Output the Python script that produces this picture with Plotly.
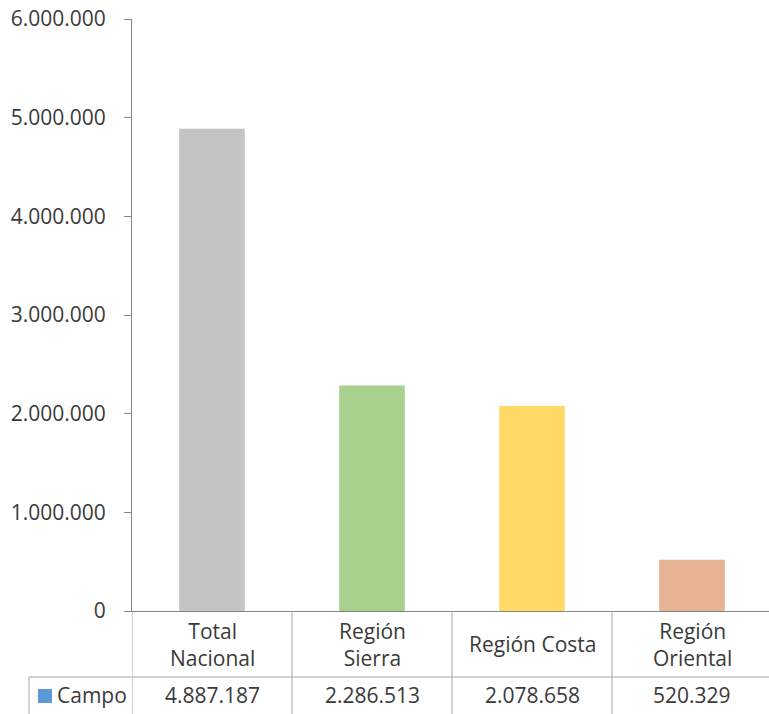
import plotly.graph_objects as go

categories = ["Total Nacional", "Región Sierra", "Región Costa", "Región Oriental"]
category_labels = ["Total<br>Nacional", "Región<br>Sierra", "Región Costa", "Región<br>Oriental"]
values = [4887187, 2286513, 2078658, 520329]
value_labels = ["4.887.187", "2.286.513", "2.078.658", "520.329"]
bar_colors = ["#C4C4C4", "#A9D18E", "#FFD966", "#E6B393"]
series_name = "Campo"
y_ticks = [0, 1000000, 2000000, 3000000, 4000000, 5000000, 6000000]

FONT = "Open Sans"
FS = 21
TXT = "#3A3A3A"
LINE = "#A6A6A6"

W, H = 769, 714
AX_X = 132      # x of y-axis
ZERO_Y = 611    # y of baseline
L, R, T, B = AX_X, 0, 19, H - ZERO_Y
pw = W - L - R
ph = H - T - B

fig = go.Figure()
fig.add_trace(go.Bar(
    x=categories, y=values, marker=dict(color=bar_colors, line=dict(width=0)),
    width=0.41, name=series_name, showlegend=False, hoverinfo="x+y",
))

def px_x(wx):
    return (wx - AX_X) / pw

def px_y(wy):
    return -(wy - ZERO_Y) / ph

row1_bottom = px_y(677)
table_bottom = px_y(716)
legend_left = px_x(29)

shapes = []
shapes.append(dict(type="line", xref="paper", yref="paper", x0=legend_left, x1=1.0,
                   y0=row1_bottom, y1=row1_bottom, line=dict(color=LINE, width=1)))
shapes.append(dict(type="line", xref="paper", yref="paper", x0=legend_left, x1=legend_left,
                   y0=row1_bottom, y1=table_bottom, line=dict(color=LINE, width=1)))
for b in [-0.5, 0.5, 1.5, 2.5]:
    shapes.append(dict(type="line", xref="x", yref="paper", x0=b, x1=b,
                       y0=0, y1=table_bottom, line=dict(color=LINE, width=1)))
shapes.append(dict(type="rect", xref="paper", yref="paper", x0=px_x(38), x1=px_x(52),
                   y0=px_y(703), y1=px_y(689), fillcolor="#5B9BD5", line=dict(width=0)))

annotations = []
row1_center = px_y(644)
row2_center = px_y(695)
for c, lab, v in zip(categories, category_labels, value_labels):
    annotations.append(dict(x=c, y=row1_center, xref="x", yref="paper", text=lab,
                            showarrow=False, font=dict(family=FONT, size=FS, color=TXT),
                            xanchor="center", yanchor="middle"))
    annotations.append(dict(x=c, y=row2_center, xref="x", yref="paper", text=v,
                            showarrow=False, font=dict(family=FONT, size=FS, color=TXT),
                            xanchor="center", yanchor="middle"))
annotations.append(dict(x=px_x(55), y=row2_center, xref="paper", yref="paper",
                        text=series_name, showarrow=False,
                        font=dict(family=FONT, size=FS, color=TXT),
                        xanchor="left", yanchor="middle"))

fig.update_layout(
    width=W, height=H,
    margin=dict(l=L, r=R, t=T, b=B, pad=0, autoexpand=False),
    paper_bgcolor="white", plot_bgcolor="white",
    separators=",.",
    shapes=shapes, annotations=annotations,
    font=dict(family=FONT, size=FS, color=TXT),
    xaxis=dict(
        type="category", range=[-0.5, -0.5 + pw / 160.0], automargin=False,
        showticklabels=False, ticks="", showgrid=False, zeroline=False,
        showline=True, linecolor="#868686", linewidth=1,
    ),
    yaxis=dict(
        range=[0, 6000000], tickvals=y_ticks, tickformat=",d", automargin=False,
        ticks="outside", ticklen=7, tickcolor="#868686", tickwidth=1,
        showline=True, linecolor="#868686", linewidth=1,
        showgrid=False, zeroline=False,
        tickfont=dict(family=FONT, size=FS, color=TXT),
        ticklabelstandoff=14, ticklabeloverflow="allow",
    ),
)

fig.write_html("out.html", config={"displayModeBar": False},
               post_script="document.body.style.margin='0';document.body.style.overflow='hidden';")
